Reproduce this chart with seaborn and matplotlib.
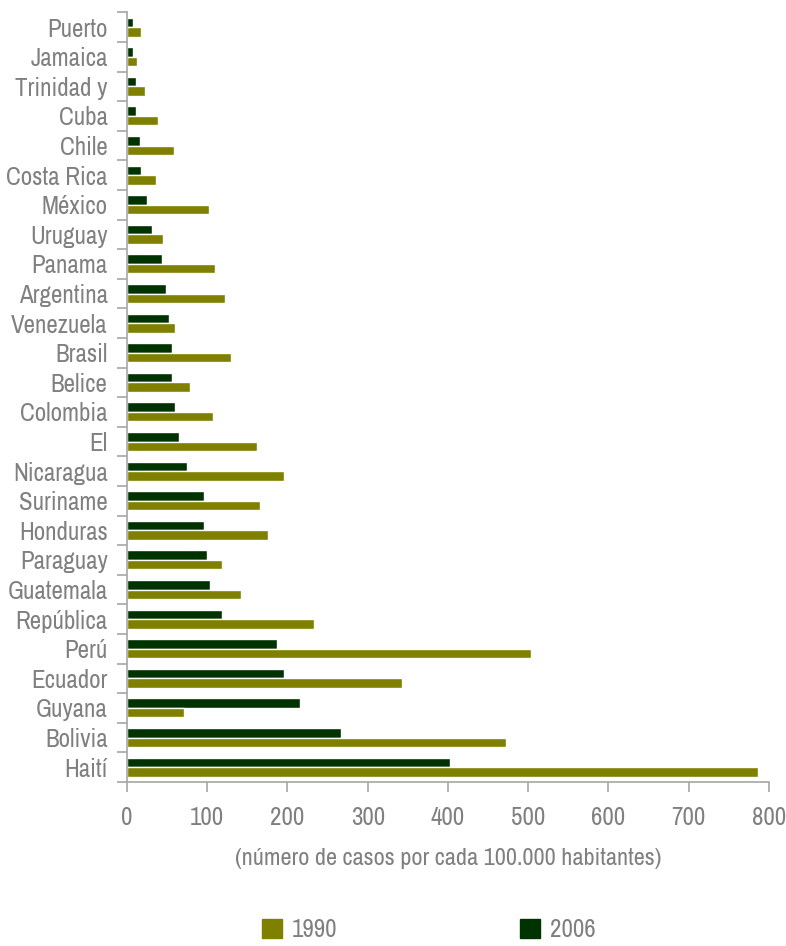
import seaborn as sns
import matplotlib.pyplot as plt
import pandas as pd
from matplotlib import font_manager
from matplotlib.patches import Patch

countries = ['Puerto', 'Jamaica', 'Trinidad y', 'Cuba', 'Chile', 'Costa Rica', 'México',
             'Uruguay', 'Panama', 'Argentina', 'Venezuela', 'Brasil', 'Belice', 'Colombia',
             'El', 'Nicaragua', 'Suriname', 'Honduras', 'Paraguay', 'Guatemala', 'República',
             'Perú', 'Ecuador', 'Guyana', 'Bolivia', 'Haití']
v1990 = [17, 13, 23, 39, 58, 36, 102, 45, 110, 122, 60, 130, 78, 107,
         162, 196, 166, 176, 118, 142, 233, 503, 343, 71, 472, 786]
v2006 = [7, 8, 11, 11, 16, 17, 25, 31, 43, 48, 52, 56, 56, 60,
         65, 75, 96, 96, 100, 103, 118, 187, 196, 216, 267, 403]

names = {f.name for f in font_manager.fontManager.ttflist}
family = 'Archivo Narrow' if 'Archivo Narrow' in names else 'DejaVu Sans'

df = pd.DataFrame({
    'pais': countries * 2,
    'valor': v2006 + v1990,
    'anio': ['2006'] * len(countries) + ['1990'] * len(countries),
})

sns.set_style('white')
plt.rcParams['font.family'] = [family, 'DejaVu Sans']
grey = '#808080'
colors = {'1990': '#808000', '2006': '#003300'}
fs = 18

fig = plt.figure(figsize=(7.86, 9.46), dpi=100)
ax = fig.add_axes([0.1616, 0.1734, 0.8167, 0.8136])
sns.barplot(data=df, x='valor', y='pais', hue='anio', hue_order=['2006', '1990'],
            palette=colors, orient='h', width=0.64, saturation=1, ax=ax, legend=False)

ax.set_xlim(0, 800)
ax.set_ylim(len(countries) - 0.5, -0.5)
ax.set_xticks(range(0, 801, 100))
ax.set_yticks([i + 0.5 for i in range(-1, len(countries))], minor=True)
ax.tick_params(axis='y', which='major', length=0, labelsize=fs, labelcolor=grey, pad=14)
ax.tick_params(axis='y', which='minor', length=7, color='#a6a6a6', width=1.2, left=True)
ax.tick_params(axis='x', length=7, color='#a6a6a6', width=1.2, labelsize=fs,
               labelcolor=grey, pad=10, bottom=True)
for side in ['top', 'right']:
    ax.spines[side].set_visible(False)
for side in ['left', 'bottom']:
    ax.spines[side].set_color('#a6a6a6')
    ax.spines[side].set_linewidth(1.2)
ax.set_ylabel('')
ax.set_xlabel('(número de casos por cada 100.000 habitantes)', fontsize=17.5, color=grey, labelpad=14)

handles = [Patch(color=colors['1990'], label='1990'), Patch(color=colors['2006'], label='2006')]
fig.legend(handles=handles, loc='center', bbox_to_anchor=(0.545, 0.017), ncol=2, frameon=False,
           fontsize=fs, labelcolor=grey, columnspacing=7.3, handlelength=0.8, handleheight=0.8,
           handletextpad=0.4)

fig.savefig('out.png', dpi=100)
